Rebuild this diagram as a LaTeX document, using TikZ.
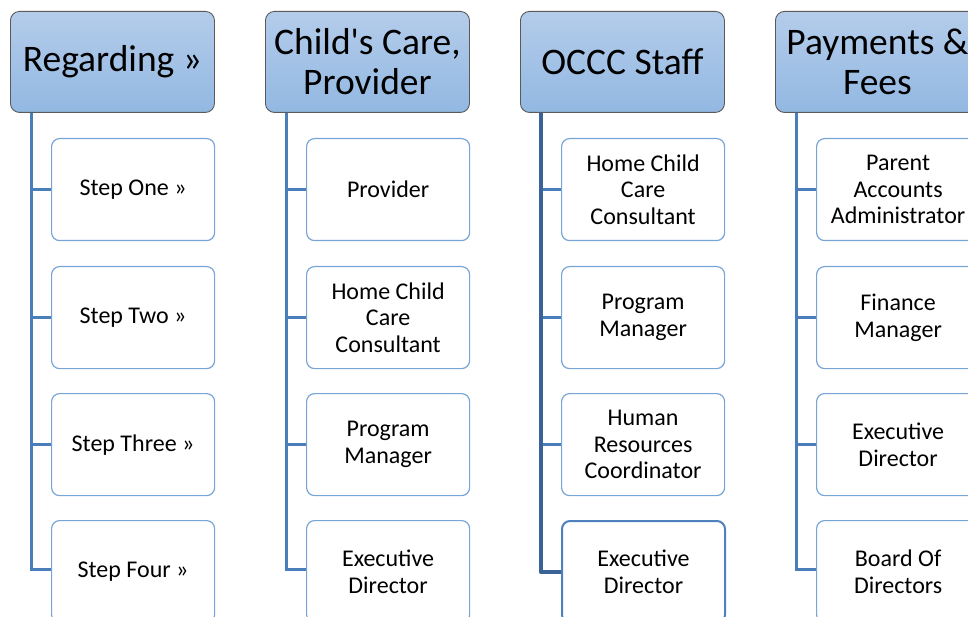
\documentclass[tikz,border=0pt]{standalone}
\usepackage{fontspec}
\setmainfont{Carlito}[Ligatures=TeXOff]
\usetikzlibrary{calc}
\definecolor{hdtop}{RGB}{180,204,234}
\definecolor{hdbot}{RGB}{146,184,226}
\definecolor{hdborder}{RGB}{90,90,90}
\definecolor{chborder}{RGB}{120,165,216}
\definecolor{chstrong}{RGB}{79,129,189}
\definecolor{connc}{RGB}{74,126,187}
\definecolor{connstrong}{RGB}{58,98,150}
\tikzset{
  head/.style={draw=hdborder, line width=0.9pt, rounded corners=9pt, top color=hdtop, bottom color=hdbot,
    minimum width=204pt, minimum height=101pt, font=\fontsize{37.5}{40}\selectfont, align=center,
    inner sep=0pt, anchor=north west},
  child/.style={draw=chborder, line width=1.2pt, rounded corners=8pt, fill=white,
    minimum width=163pt, minimum height=102pt, font=\fontsize{24}{26.5}\selectfont, align=center,
    inner sep=0pt, anchor=north west},
  childstrong/.style={child, draw=chstrong, line width=2pt},
  conn/.style={draw=connc, line width=3pt},
  connbold/.style={draw=connstrong, line width=4.5pt, line join=round},
}
\begin{document}
\begin{tikzpicture}[x=1pt,y=-1pt]
\useasboundingbox (0,0) rectangle (968,617);
\clip (0,0) rectangle (968,617);
% headers
\node[head] (h1) at (10,11) {Regarding »};
\node[head] (h2) at (265,11) {Child's Care,\\Provider};
\node[head] (h3) at (520,11) {OCCC Staff};
\node[head] (h4) at (775,11) {Payments \&\\Fees};
% column 1
\node[child] (c11) at (51,138) {Step One »};
\node[child] (c12) at (51,266) {Step Two »};
\node[child] (c13) at (51,393) {Step Three »};
\node[child] (c14) at (51,520) {Step Four »};
% column 2
\node[child] (c21) at (306,138) {Provider};
\node[child] (c22) at (306,266) {Home Child\\Care\\Consultant};
\node[child] (c23) at (306,393) {Program\\Manager};
\node[child] (c24) at (306,520) {Executive\\Director};
% column 3
\node[child] (c31) at (561,138) {Home Child\\Care\\Consultant};
\node[child] (c32) at (561,266) {Program\\Manager};
\node[child] (c33) at (561,393) {Human\\Resources\\Coordinator};
\node[childstrong] (c34) at (561,520) {Executive\\Director};
% column 4
\node[child] (c41) at (816,138) {Parent\\Accounts\\Administrator};
\node[child] (c42) at (816,266) {Finance\\Manager};
\node[child] (c43) at (816,393) {Executive\\Director};
\node[child] (c44) at (816,520) {Board Of\\Directors};
% trunk coordinates
\coordinate (t1) at ($(h1.south west)+(21,0)$);
\coordinate (t2) at ($(h2.south west)+(21,0)$);
\coordinate (t3) at ($(h3.south west)+(21,0)$);
\coordinate (t4) at ($(h4.south west)+(21,0)$);
% connectors
\foreach \c in {1,2,4}{
  \draw[conn] (t\c) |- ($(c\c4.west)+(0,-2)$);
  \foreach \r in {1,2,3}{
    \draw[conn] (c\c\r.west -| t\c) -- (c\c\r.west);
  }
}
\foreach \r in {1,2,3}{
  \draw[conn] (c3\r.west -| t3) -- (c3\r.west);
}
\draw[connbold] (t3) |- (c34.west);
\end{tikzpicture}
\end{document}
